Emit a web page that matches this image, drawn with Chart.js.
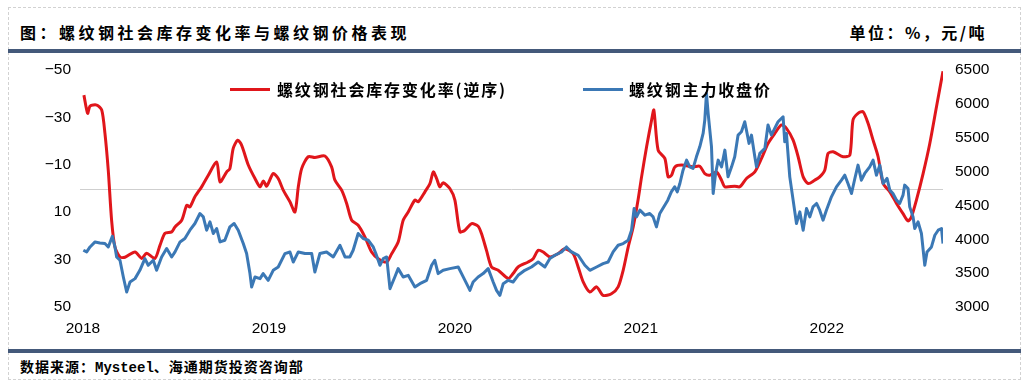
<!DOCTYPE html>
<html>
<head>
<meta charset="utf-8">
<script src="https://cdn.jsdelivr.net/npm/chart.js@4.4.0/dist/chart.umd.min.js"></script>
<style>
  body { margin: 0; width: 1030px; height: 387px; overflow: hidden; position: relative; background: #fff;
         font-family: "Noto Sans CJK SC", sans-serif; color: #000; }
  #frame { position: absolute; left: 8px; top: 7px; width: 1011px; height: 371px; border: 1px dashed #d2d2d2; }
  .bar { position: absolute; left: 8px; width: 1013px; height: 4px; background: #44597a; }
  #title { position: absolute; left: 20px; top: 20px; font-size: 16px; font-weight: 700; letter-spacing: 3.5px; line-height: 24px; }
  #unit { position: absolute; right: 43px; top: 20px; font-size: 16px; font-weight: 700; letter-spacing: 2.5px; line-height: 24px; }
  #source { position: absolute; left: 20px; top: 356px; font-size: 14px; font-weight: 700; letter-spacing: 1px; line-height: 20px; }
  #source span { font-family: "Liberation Mono", monospace; letter-spacing: 0; }
  #box { position: absolute; left: 0; top: 0; width: 1030px; height: 340px; }
  .lg { position: absolute; top: 78px; font-size: 16px; font-weight: 700; letter-spacing: 1.85px; line-height: 22px; white-space: nowrap; }
  .lg i { position: absolute; top: 10px; width: 40px; height: 3px; }
</style>
</head>
<body>
<div id="frame"></div>
<div id="title">图：螺纹钢社会库存变化率与螺纹钢价格表现</div>
<div id="unit">单位：%，元/吨</div>
<div class="bar" style="top:49px"></div>
<div id="box"><canvas id="myChart" width="1030" height="340"></canvas></div>
<div class="lg" style="left:230px"><i style="left:0;background:#e0161b"></i><span style="margin-left:47px">螺纹钢社会库存变化率(逆序)</span></div>
<div class="lg" style="left:583px"><i style="left:0;background:#3b78b5"></i><span style="margin-left:46px">螺纹钢主力收盘价</span></div>
<div class="bar" style="top:349px"></div>
<div id="source">数据来源：<span>Mysteel</span>、海通期货投资咨询部</div>
<script>
// time positions are decimal years
const stockT = [
  2018.005,2018.025,2018.038,2018.074,2018.101,2018.118,2018.136,2018.154,2018.172,2018.199,
  2018.226,2018.280,2018.316,2018.342,2018.387,2018.414,2018.441,2018.477,2018.495,2018.531,
  2018.558,2018.575,2018.602,2018.638,2018.674,2018.719,2018.737,2018.773,2018.790,2018.808,
  2018.832,2018.853,2018.889,2018.925,2018.952,2018.970,2018.988,
  2019.023,2019.050,2019.077,2019.113,2019.140,2019.158,2019.176,2019.211,2019.247,2019.301,
  2019.337,2019.355,2019.391,2019.418,2019.445,2019.480,2019.516,2019.552,2019.588,2019.633,
  2019.660,2019.695,2019.722,2019.749,2019.785,2019.803,2019.839,2019.866,2019.884,2019.902,
  2019.919,2019.937,2019.973,
  2020.000,2020.027,2020.054,2020.090,2020.125,2020.143,2020.170,2020.197,2020.233,2020.287,
  2020.313,2020.340,2020.394,2020.421,2020.448,2020.475,2020.511,2020.555,2020.591,2020.636,
  2020.663,2020.690,2020.726,2020.762,2020.797,2020.842,2020.878,2020.905,2020.932,2020.959,
  2020.985,
  2021.004,2021.031,2021.058,2021.070,2021.093,2021.129,2021.147,2021.165,2021.183,2021.219,
  2021.281,2021.317,2021.344,2021.371,2021.407,2021.434,2021.452,2021.505,2021.532,2021.568,
  2021.613,2021.649,2021.684,2021.720,2021.756,2021.783,2021.819,2021.846,2021.873,2021.900,
  2021.935,2021.962,2021.989,
  2022.007,2022.034,2022.088,2022.124,2022.141,2022.168,2022.195,2022.222,2022.249,2022.276,
  2022.303,2022.339,2022.375,2022.410,2022.437,2022.455,2022.482,2022.518,2022.554,2022.590,
  2022.625
]
const stockValues = [
  -39.4,-31.7,-34.8,-35.2,-33.1,-23.4,-7.7,13.4,24.7,28.9,
  29.0,26.8,29.5,27.3,29.5,24.0,18.9,18.3,16.2,13.4,
  7.1,7.8,3.5,-0.7,-5.6,-11.2,-2.8,-7.0,-8.4,-16.9,
  -20.4,-18.3,-9.9,-4.2,-0.7,-3.2,-1.0,
  -6.3,-4.2,0.7,5.6,9.9,-0.7,-8.4,-13.4,-13.1,-13.7,
  -9.1,-3.5,0.7,6.3,13.4,15.5,20.4,26.8,29.6,31.0,
  27.5,22.6,13.4,9.9,4.9,5.6,1.4,-2.1,-7.0,-4.2,
  -0.7,-2.4,0.0,
  4.9,18.3,17.6,14.8,15.9,19.0,26.1,33.1,34.5,38.0,
  35.9,33.1,31.0,29.6,26.1,26.8,28.9,27.5,25.4,27.5,
  33.1,39.4,43.7,41.5,45.1,44.4,41.5,34.5,24.7,16.2,
  4.9,
  -4.9,-17.6,-28.9,-33.1,-16.2,-12.7,-4.9,-5.6,-9.1,-9.9,
  -9.1,-9.4,-6.3,-5.6,-7.0,-3.5,-0.7,-1.0,-0.7,-4.2,
  -7.0,-12.7,-19.0,-23.2,-26.8,-25.4,-20.4,-13.4,-4.9,-2.1,
  -3.5,-4.9,-7.7,
  -14.8,-15.5,-13.4,-14.1,-28.9,-31.7,-32.4,-27.5,-20.4,-13.4,
  -2.1,1.4,6.3,10.6,13.7,12.0,4.9,-6.3,-19.0,-34.5,
  -49.5
]

const priceT = [
  2018.002,2018.020,2018.038,2018.065,2018.091,2018.118,2018.136,2018.158,2018.172,2018.181,
  2018.199,2018.217,2018.235,2018.253,2018.280,2018.306,2018.333,2018.351,2018.378,2018.396,
  2018.423,2018.450,2018.477,2018.495,2018.522,2018.548,2018.575,2018.602,2018.629,2018.647,
  2018.665,2018.683,2018.701,2018.719,2018.737,2018.763,2018.790,2018.813,2018.835,2018.862,
  2018.880,2018.898,2018.907,2018.925,2018.952,2018.969,2018.996,
  2019.023,2019.050,2019.086,2019.113,2019.131,2019.158,2019.194,2019.230,2019.247,2019.274,
  2019.310,2019.346,2019.382,2019.409,2019.435,2019.453,2019.480,2019.507,2019.534,2019.561,
  2019.575,2019.597,2019.615,2019.633,2019.651,2019.677,2019.695,2019.722,2019.749,2019.785,
  2019.812,2019.848,2019.875,2019.892,2019.910,2019.937,2019.973,
  2020.018,2020.036,2020.063,2020.081,2020.098,2020.125,2020.152,2020.179,2020.206,2020.224,
  2020.242,2020.260,2020.287,2020.313,2020.340,2020.376,2020.412,2020.448,2020.484,2020.511,
  2020.538,2020.574,2020.600,2020.627,2020.663,2020.699,2020.726,2020.762,2020.797,2020.824,
  2020.851,2020.878,2020.905,2020.932,2020.950,2020.964,2020.977,2020.995,
  2021.022,2021.048,2021.066,2021.084,2021.102,2021.145,2021.164,2021.182,2021.196,2021.210,
  2021.227,2021.246,2021.263,2021.281,2021.299,2021.317,2021.335,2021.344,2021.353,2021.362,
  2021.371,2021.380,2021.389,2021.402,2021.416,2021.434,2021.452,2021.469,2021.488,2021.505,
  2021.523,2021.541,2021.559,2021.582,2021.595,2021.613,2021.622,2021.640,2021.667,2021.684,
  2021.702,2021.720,2021.738,2021.765,2021.774,2021.783,2021.801,2021.819,2021.837,2021.855,
  2021.873,2021.891,2021.909,2021.926,2021.945,2021.962,2021.980,2021.998,
  2022.025,2022.052,2022.079,2022.097,2022.114,2022.133,2022.151,2022.168,2022.186,2022.204,
  2022.231,2022.249,2022.267,2022.285,2022.303,2022.324,2022.339,2022.356,2022.375,2022.392,
  2022.410,2022.419,2022.437,2022.446,2022.464,2022.473,2022.491,2022.509,2022.527,2022.539,
  2022.563,2022.581,2022.599,2022.617,2022.625
]
const priceValues = [
  3838,3813,3887,3961,3946,3937,3887,4045,3887,3739,
  3690,3443,3221,3369,3419,3542,3715,3616,3690,3542,
  3739,3863,3739,3813,3961,4011,4134,4233,4381,4331,
  4134,4257,4085,4159,3961,3986,4183,4233,4134,3937,
  3789,3493,3295,3443,3419,3493,3394,
  3542,3591,3789,3813,3665,3813,3789,3789,3517,3789,
  3813,3739,3912,3739,3739,3838,4085,4011,3986,3887,
  3789,3616,3715,3739,3271,3443,3567,3443,3468,3295,
  3345,3394,3616,3690,3493,3542,3567,
  3591,3493,3345,3246,3369,3443,3493,3567,3369,3246,
  3172,3345,3394,3369,3468,3542,3591,3665,3591,3715,
  3764,3813,3887,3813,3764,3616,3542,3591,3641,3665,
  3813,3912,3937,3986,4134,4455,4331,4430,
  4356,4381,4331,4183,4381,4578,4700,4775,4700,4824,
  5021,5169,5070,5046,5218,5366,5563,5761,6155,5859,
  5613,5366,4676,4972,5169,5070,5317,4922,5070,5218,
  5539,5588,5736,5416,5539,5218,5070,5268,5342,5687,
  5539,5637,5736,5810,5440,5563,4922,4578,4233,4405,
  4134,4455,4331,4479,4529,4430,4282,4430,
  4627,4775,4873,4947,4824,4676,4898,5095,4873,4972,
  5070,5169,4947,5095,4824,4900,4726,4676,4578,4529,
  4652,4800,4750,4479,4331,4159,4257,4085,3616,3813,
  3887,4060,4134,4159,3937
]

const xTickLabels = ['2018', '2019', '2020', '2021', '2022']
const leftTicks = [-50, -30, -10, 10, 30, 50]
const rightTicks = [3000, 3500, 4000, 4500, 5000, 5500, 6000, 6500]

const RED = '#e0161b'
const BLUE = '#3b78b5'
const tickFont = { family: 'Liberation Sans', size: 15.5 }

// light grey line at 0 on the left axis
const zeroLine = {
    id: 'zeroLine',
    beforeDatasetsDraw( chart ) {
        const { ctx, chartArea } = chart
        const y = Math.round( chart.scales.yL.getPixelForValue( 0 ) ) + 0.5
        ctx.save()
        ctx.strokeStyle = '#cfcfcf'
        ctx.lineWidth = 1
        ctx.beginPath()
        ctx.moveTo( chartArea.left, y )
        ctx.lineTo( chartArea.right, y )
        ctx.stroke()
        ctx.restore()
    }
}

const ctx = document.getElementById('myChart')
const myChart = new Chart(ctx, {
    type: 'line',
    data: {
        datasets: [
            {
                label: '螺纹钢主力收盘价',
                data: priceT.map( (t, i) => ({ x: t, y: priceValues[i] }) ),
                yAxisID: 'yR',
                borderColor: BLUE,
                borderWidth: 3,
                pointRadius: 0,
                borderJoinStyle: 'round',
                tension: 0,
                order: 0
            },
            {
                label: '螺纹钢社会库存变化率(逆序)',
                data: stockT.map( (t, i) => ({ x: t, y: stockValues[i] }) ),
                yAxisID: 'yL',
                borderColor: RED,
                borderWidth: 3,
                pointRadius: 0,
                borderJoinStyle: 'round',
                tension: 0.25,
                order: 1
            }
        ]
    },
    options: {
        animation: false,
        responsive: false,
        layout: { padding: { top: 70, left: 0, right: 0, bottom: 0 } },
        plugins: { legend: { display: false }, tooltip: { enabled: false } },
        scales: {
            x: {
                type: 'linear',
                min: 2017.984,
                max: 2022.625,
                afterBuildTicks: ( s ) => { s.ticks = xTickLabels.map( (v) => ({ value: Number(v) }) ) },
                afterFit: ( s ) => { s.height = 33 },
                grid: { display: false, drawTicks: false },
                border: { display: false },
                ticks: { font: tickFont, color: '#000', padding: 12, maxRotation: 0, autoSkip: false,
                         callback: ( v ) => String(v) }
            },
            yL: {
                position: 'left',
                reverse: true,
                min: -50,
                max: 50,
                afterBuildTicks: ( s ) => { s.ticks = leftTicks.map( (v) => ({ value: v }) ) },
                afterFit: ( s ) => { s.width = 80 },
                grid: { display: false, drawTicks: false },
                border: { display: false },
                ticks: { font: tickFont, color: '#000', padding: 9,
                         callback: ( v ) => String(v).replace('-', '\u2212') }
            },
            yR: {
                position: 'right',
                min: 3000,
                max: 6500,
                afterBuildTicks: ( s ) => { s.ticks = rightTicks.map( (v) => ({ value: v }) ) },
                afterFit: ( s ) => { s.width = 87 },
                grid: { display: false, drawTicks: false },
                border: { display: false },
                ticks: { font: tickFont, color: '#000', padding: 12, callback: ( v ) => String(v) }
            }
        }
    },
    plugins: [ zeroLine ]
});
</script>
</body>
</html>
